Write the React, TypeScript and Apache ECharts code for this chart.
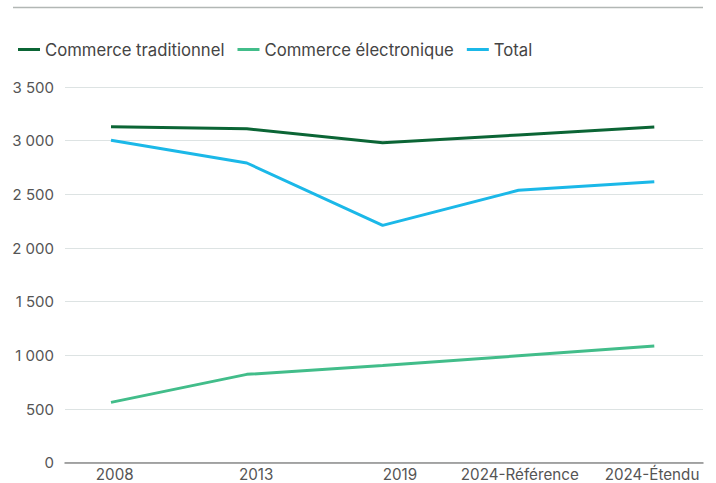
import React, { useEffect, useRef } from "react";
import * as echarts from "echarts";

const categories = ["2008", "2013", "2019", "2024-Référence", "2024-Étendu"];
const traditionnel = [3130, 3110, 2980, 3053, 3127];
const electronique = [562, 823, 906, 996, 1087];
const total = [3003, 2792, 2211, 2538, 2618];
const yTicks = [0, 500, 1000, 1500, 2000, 2500, 3000, 3500];
const labelShift = [3.7, 9.4, 17.3, 1.3, -2.3];

const FONT = "Inter, Roboto, 'Noto Sans', sans-serif";

export default function App() {
  const ref = useRef<HTMLDivElement>(null);
  useEffect(() => {
    document.body.style.margin = "0";
    const chart = echarts.init(ref.current!, null, { renderer: "svg" });
    const rich: Record<string, any> = {};
    labelShift.forEach((s, i) => {
      rich["l" + i] = {
        fontSize: 15.2,
        color: "#555555",
        fontFamily: FONT,
        padding: s >= 0 ? [0, 0, 0, 2 * s] : [0, -2 * s, 0, 0],
      };
    });
    const mkSeries = (name: string, data: number[], color: string) => ({
      name,
      type: "line",
      data,
      xAxisIndex: 1,
      yAxisIndex: 1,
      showSymbol: false,
      symbol: "none",
      lineStyle: { width: 3, color },
      itemStyle: { color },
    });
    chart.setOption({
      animation: false,
      textStyle: { fontFamily: FONT },
      graphic: [
        {
          type: "line",
          shape: { x1: 13, y1: 7.5, x2: 703, y2: 7.5 },
          style: { stroke: "#b2b7b5", lineWidth: 1.5 },
        },
      ],
      legend: {
        left: 13,
        top: 36,
        icon: "rect",
        itemWidth: 22,
        itemHeight: 3,
        itemGap: 13,
        textStyle: { fontSize: 16.7, color: "#444444", fontFamily: FONT },
        data: ["Commerce traditionnel", "Commerce électronique", "Total"],
      },
      grid: [
        { left: 65, right: 13, top: 87, bottom: 20.3 },
        { left: 111, right: 61.7, top: 87, bottom: 20.3 },
      ],
      xAxis: [
        {
          type: "category",
          gridIndex: 0,
          data: categories,
          axisLine: { show: true, lineStyle: { color: "#8c8c8c", width: 1.5 } },
          axisTick: { show: false },
          axisLabel: { show: false },
          splitLine: { show: false },
        },
        {
          type: "category",
          gridIndex: 1,
          data: categories,
          boundaryGap: false,
          axisLine: { show: false },
          axisTick: { show: false },
          splitLine: { show: false },
          axisLabel: {
            interval: 0,
            margin: 4,
            fontSize: 15.2,
            color: "#555555",
            fontFamily: FONT,
            formatter: (v: string, i: number) => `{l${i}|${v}}`,
            rich,
          },
        },
      ],
      yAxis: [
        {
          type: "value",
          gridIndex: 0,
          min: yTicks[0],
          max: yTicks[yTicks.length - 1],
          interval: 500,
          axisLine: { show: false },
          axisTick: { show: false },
          axisLabel: {
            margin: 11,
            fontSize: 15,
            color: "#555555",
            fontFamily: FONT,
            formatter: (v: number) =>
              String(v).replace(/\B(?=(\d{3})+(?!\d))/g, " "),
          },
          splitLine: { lineStyle: { color: "#dde3e3", width: 1 } },
        },
        {
          type: "value",
          gridIndex: 1,
          min: yTicks[0],
          max: yTicks[yTicks.length - 1],
          interval: 500,
          show: false,
          splitLine: { show: false },
        },
      ],
      series: [
        mkSeries("Commerce traditionnel", traditionnel, "#0b6535"),
        mkSeries("Commerce électronique", electronique, "#42bd8a"),
        mkSeries("Total", total, "#1bb8e8"),
      ],
    });
    return () => chart.dispose();
  }, []);
  return <div ref={ref} style={{ width: 716, height: 483 }} />;
}
